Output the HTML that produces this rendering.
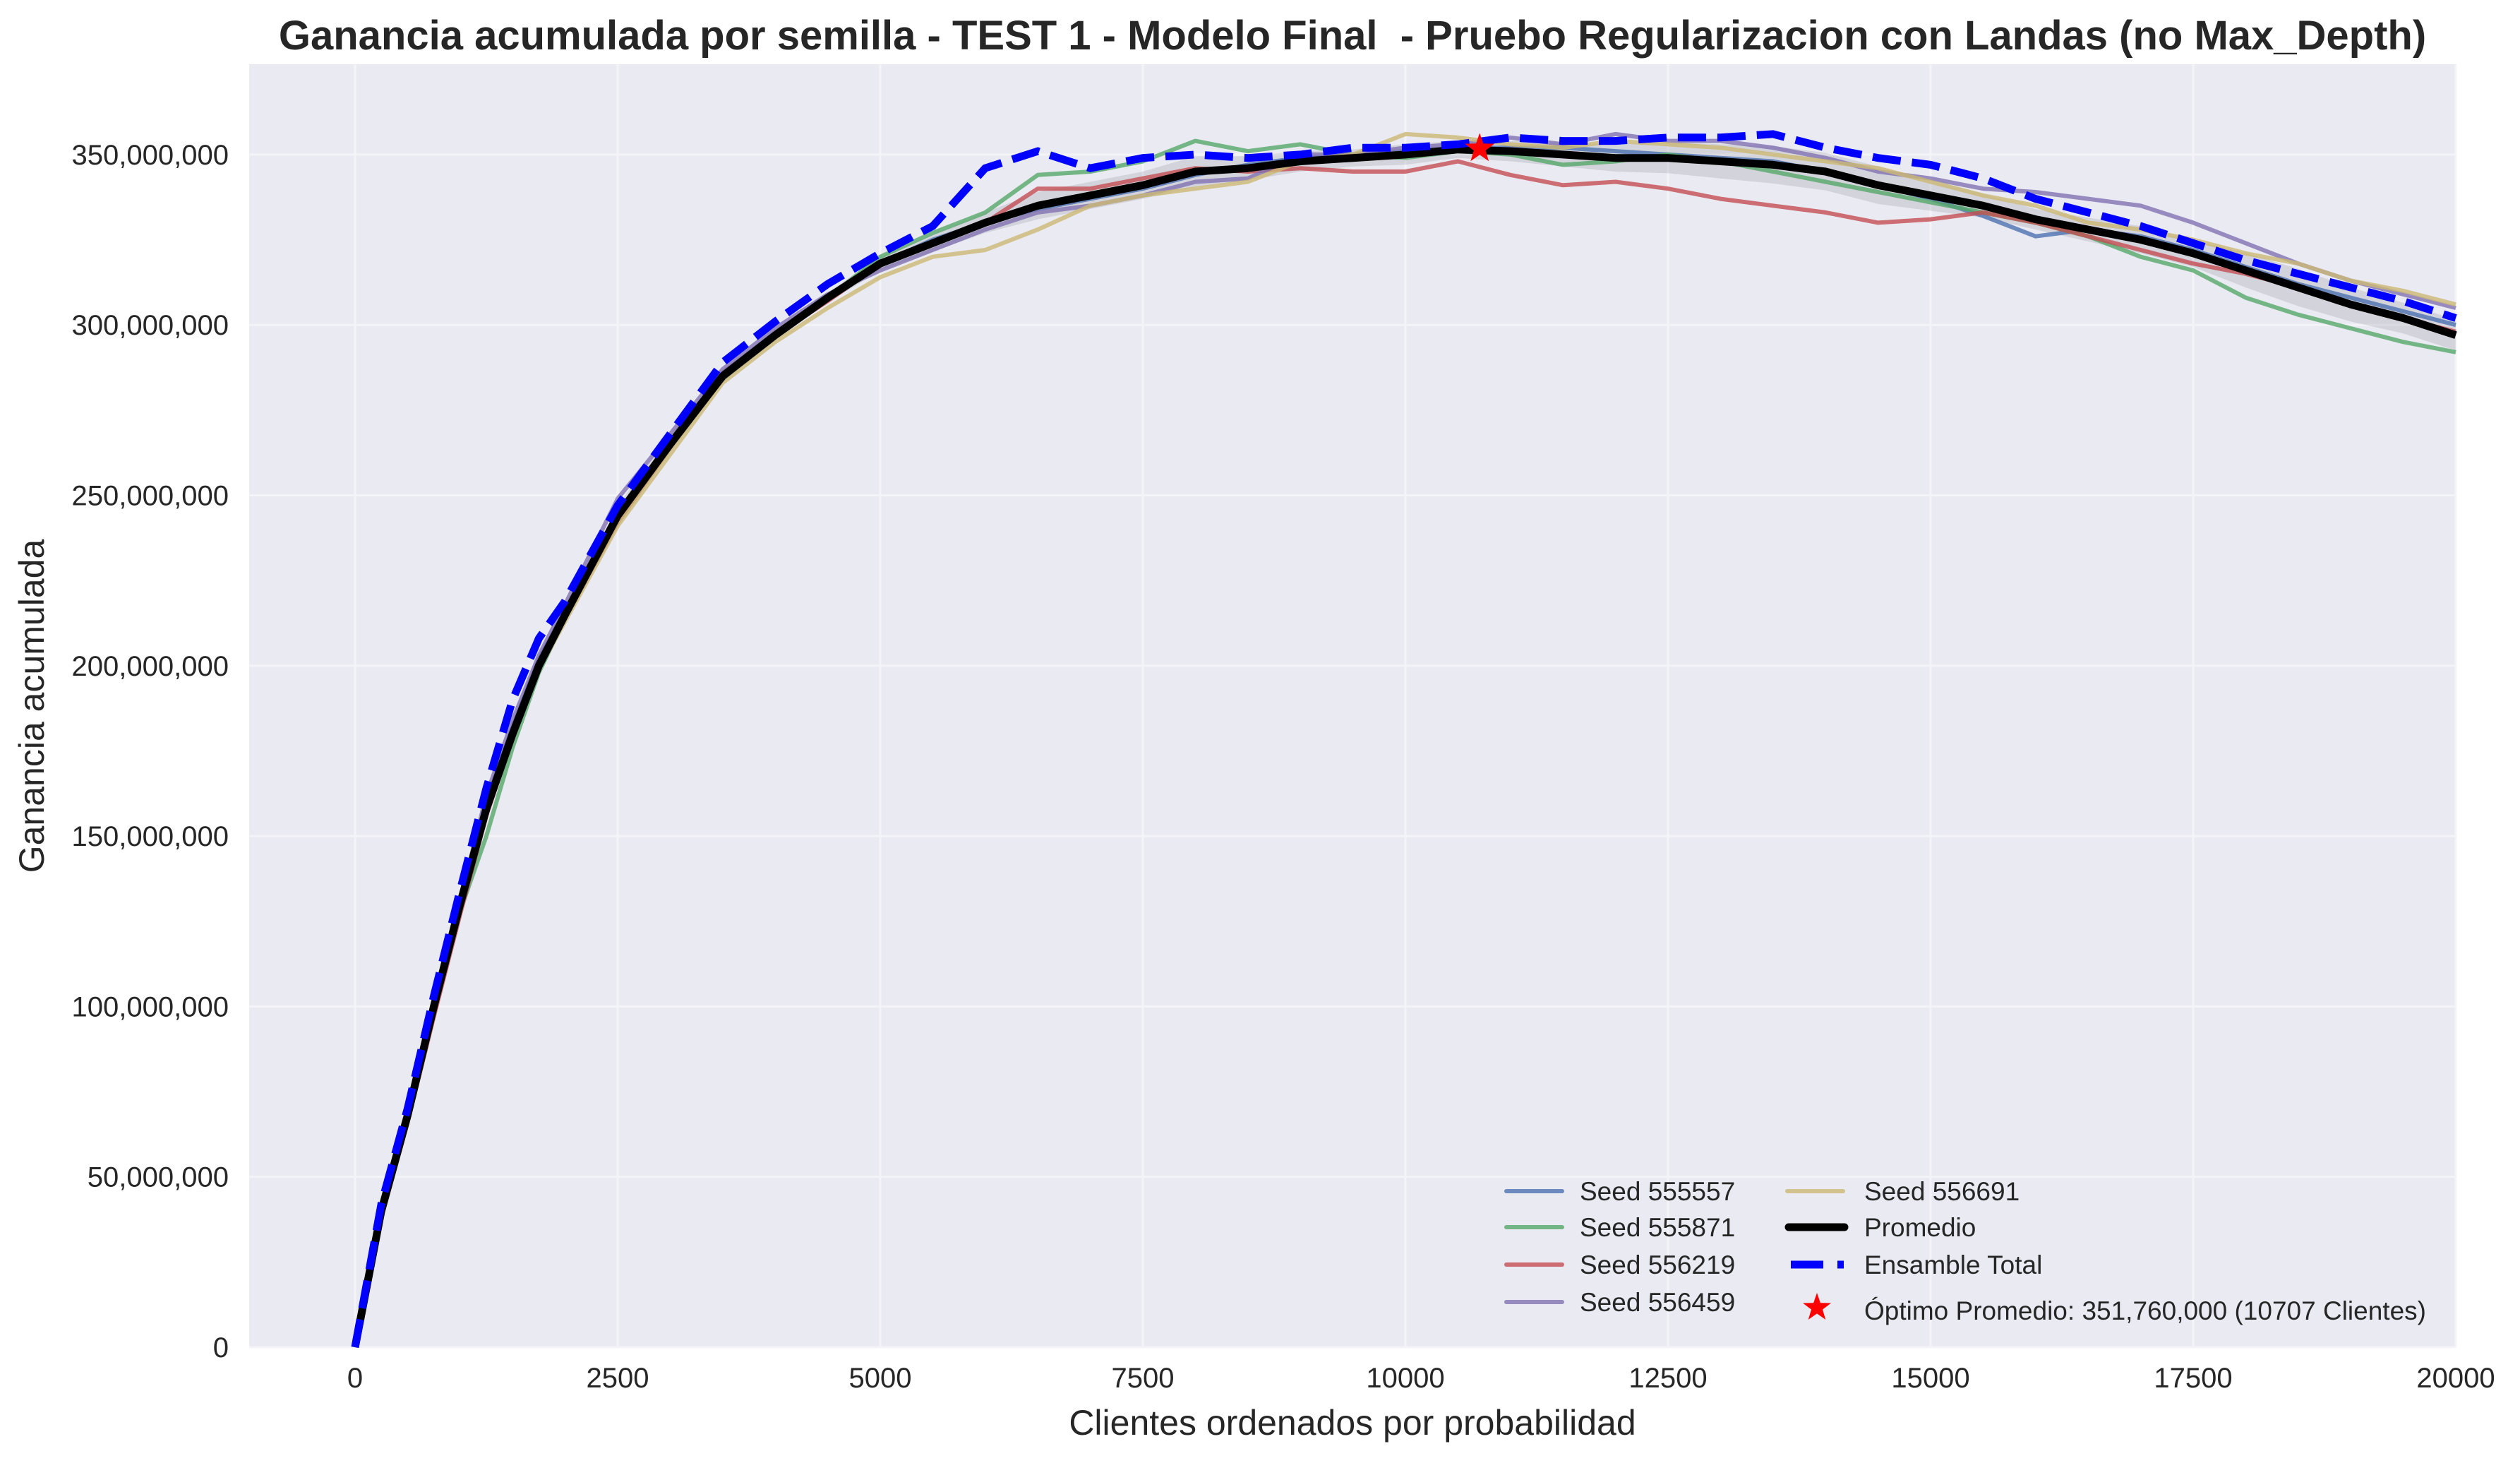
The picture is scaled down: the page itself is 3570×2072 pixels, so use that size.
<!DOCTYPE html>
<html><head><meta charset="utf-8">
<style>
html,body{margin:0;padding:0;background:#fff;}
svg{display:block;font-family:"Liberation Sans",sans-serif;}
</style></head>
<body>
<svg id="chart" width="3570" height="2072" viewBox="0 0 3570 2072" xmlns="http://www.w3.org/2000/svg">
  <rect x="0" y="0" width="3570" height="2072" fill="#fff"/>
  <text x="1916" y="70" text-anchor="middle" font-size="58" font-weight="bold" fill="#262626" style="white-space:pre">Ganancia acumulada por semilla - TEST 1 - Modelo Final  - Pruebo Regularizacion con Landas (no Max_Depth)</text>
  <rect x="353" y="91" width="3126" height="1817" fill="#eaeaf2"/>
  <g id="grid"></g>
  <g id="series"></g>
  <g id="axes"></g>
  <text x="1916" y="2032" text-anchor="middle" font-size="50" fill="#262626">Clientes ordenados por probabilidad</text>
  <text x="62" y="1000" text-anchor="middle" font-size="50" fill="#262626" transform="rotate(-90 62 1000)">Ganancia acumulada</text>
  <g id="legend"></g>
</svg>
<script>
const xs = [0,250,500,750,1000,1250,1500,1750,2000,2500,3000,3500,4000,4500,5000,5500,6000,6500,7000,7500,8000,8500,9000,9500,10000,10500,11000,11500,12000,12500,13000,13500,14000,14500,15000,15500,16000,16500,17000,17500,18000,18500,19000,19500,20000];
const seed555557 = [0,40,68,100,132,160,182,202,216,244,266,284,297,308,318,325,330,334,337,340,344,347,349,350,351,352,352,352,351,350,349,348,345,341,337,332,326,328,326,322,317,312,308,304,300];
const seed555871 = [0,41,68,99,128,150,176,198,214,243,266,285,297,308,320,327,333,344,345,348,354,351,353,350,349,351,350,347,348,350,348,345,342,339,336,333,330,326,320,316,308,303,299,295,292];
const seed556219 = [0,38,66,97,127,156,179,199,214,242,264,286,297,307,318,324,330,340,340,343,346,345,346,345,345,348,344,341,342,340,337,335,333,330,331,333,330,326,322,318,315,311,306,302,298];
const seed556459 = [0,40,68,101,131,162,184,203,218,249,268,287,299,309,316,322,328,333,335,338,342,343,350,350,352,353,355,353,356,354,354,352,349,345,343,340,339,337,335,330,324,318,313,309,305];
const seed556691 = [0,40,66,98,129,158,180,199,213,241,262,283,295,305,314,320,322,328,335,338,340,342,348,350,356,355,353,352,354,353,352,350,348,346,342,338,335,330,328,325,321,318,313,310,306];
const promedio = [0,40,68,100,130,158,180,200,215,244,265,285,297,308,318,324,330,335,338,341,345,346,348,349,350,351.5,351,350,349,349,348,347,345,341,338,335,331,328,325,321,316,311,306,302,297];
const ensemble = [0,42,70,103,134,164,190,208,219,247,268,289,301,312,321,329,346,351,346,349,350,349,350,352,352,353,355,354,354,355,355,356,352,349,347,343,337,333,329,324,319,315,311,307,302];
const bandStd = [0,1,1,1.5,2,3,3,2.5,2,3,2.5,2,1.5,1.5,2,2.5,3,4,4,4,4.5,3.5,3,2.5,3,2.5,3,3.5,4,4.5,5,5.5,5.5,5.5,4.5,3.5,3,3.5,4,4,5,5.5,5,4.5,4.5];
const xTicks = [0,2500,5000,7500,10000,12500,15000,17500,20000];
const yTicks = [0,50,100,150,200,250,300,350];
const optX = 10707, optY = 351.76;

const NS = "http://www.w3.org/2000/svg";
const L=353,R=3479,T=91,B=1908;
const xMin=-1008,xMax=20000,yMin=0,yMax=376.5;
function sx(v){return L+(v-xMin)/(xMax-xMin)*(R-L);}
function sy(v){return B-(v-yMin)/(yMax-yMin)*(B-T);}
function mk(tag,attrs,parent){const e=document.createElementNS(NS,tag);for(const k in attrs)e.setAttribute(k,attrs[k]);parent.appendChild(e);return e;}

const grid=document.getElementById('grid'), axes=document.getElementById('axes'), series=document.getElementById('series');
xTicks.forEach(t=>{
  const g=mk('line',{x1:sx(t),x2:sx(t),y1:T,y2:B,stroke:'#f4f4f8','stroke-width':3},grid);
  
  
  const tx=mk('text',{x:sx(t),y:B+57,'text-anchor':'middle','font-size':40,fill:'#262626'},axes);
  tx.textContent=String(t);
  
  
});
yTicks.forEach(t=>{
  const g=mk('line',{x1:L,x2:R,y1:sy(t),y2:sy(t),stroke:'#f4f4f8','stroke-width':3},grid);
  
  
  const tx=mk('text',{x:L-29,y:sy(t)+14,'text-anchor':'end','font-size':40,fill:'#262626'},axes);
  tx.textContent=(t*1000000).toLocaleString('en-US');
  
  
});

function pts(arr){return arr.map((v,i)=>sx(xs[i]).toFixed(1)+','+sy(v).toFixed(1)).join(' ');}
const up=promedio.map((v,i)=>v+bandStd[i]), dn=promedio.map((v,i)=>v-bandStd[i]);
const bandPts=xs.map((x,i)=>sx(x).toFixed(1)+','+sy(up[i]).toFixed(1)).concat(xs.slice().reverse().map((x,j)=>{const i=xs.length-1-j;return sx(x).toFixed(1)+','+sy(dn[i]).toFixed(1);})).join(' ');
const band=mk('polygon',{points:bandPts,fill:'#a0a0a8','fill-opacity':0.3},series);



const seeds=[[seed555557,'#4C72B0','seed-555557-line'],[seed555871,'#55A868','seed-555871-line'],[seed556219,'#C44E52','seed-556219-line'],[seed556459,'#8172B2','seed-556459-line'],[seed556691,'#CCB974','seed-556691-line']];
seeds.forEach(s=>{
  const p=mk('polyline',{points:pts(s[0]),fill:'none',stroke:s[1],'stroke-width':6,'stroke-opacity':0.8,'stroke-linejoin':'round'},series);
  
  
});
const pm=mk('polyline',{points:pts(promedio),fill:'none',stroke:'#000','stroke-width':11,'stroke-linejoin':'round'},series);


const en=mk('polyline',{points:pts(ensemble),fill:'none',stroke:'#0000ff','stroke-width':11,'stroke-dasharray':'40 16'},series);



function star(cx,cy,r){let s=[];for(let i=0;i<10;i++){const a=-Math.PI/2+i*Math.PI/5;const rr=i%2?r*0.4:r;s.push((cx+rr*Math.cos(a)).toFixed(1)+','+(cy+rr*Math.sin(a)).toFixed(1));}return s.join(' ');}
const st=mk('polygon',{points:star(sx(optX),sy(optY),22),fill:'#ff0000'},series);



const lg=document.getElementById('legend');
const items=[
 [2134,1687,'#4C72B0','Seed 555557','line'],
 [2134,1738,'#55A868','Seed 555871','line'],
 [2134,1791,'#C44E52','Seed 556219','line'],
 [2134,1844,'#8172B2','Seed 556459','line'],
 [2532,1687,'#CCB974','Seed 556691','line'],
 [2532,1738,'#000','Promedio','thick'],
 [2532,1791,'#0000ff','Ensamble Total','dash'],
 [2532,1856,'#ff0000','Óptimo Promedio: 351,760,000 (10707 Clientes)','star']
];
items.forEach(it=>{
  const g=mk('g',{},lg);
  
  
  const [x,y,c,label,kind]=it;
  if(kind==='line') mk('line',{x1:x,x2:x+79,y1:y,y2:y,stroke:c,'stroke-width':6,'stroke-opacity':0.8,'stroke-linecap':'round'},g);
  else if(kind==='thick') mk('line',{x1:x+2,x2:x+81,y1:y,y2:y,stroke:c,'stroke-width':11,'stroke-linecap':'round'},g);
  else if(kind==='dash') mk('line',{x1:x+5,x2:x+80,y1:y,y2:y,stroke:c,'stroke-width':11,'stroke-dasharray':'46 20 9 20'},g);
  else mk('polygon',{points:star(x+42,y-4,21),fill:c},g);
  const tx=mk('text',{x:(x===2134?2238:2641),y:y+13,'font-size':37,fill:'#262626'},g);
  tx.textContent=label;
});
</script>
</body></html>
